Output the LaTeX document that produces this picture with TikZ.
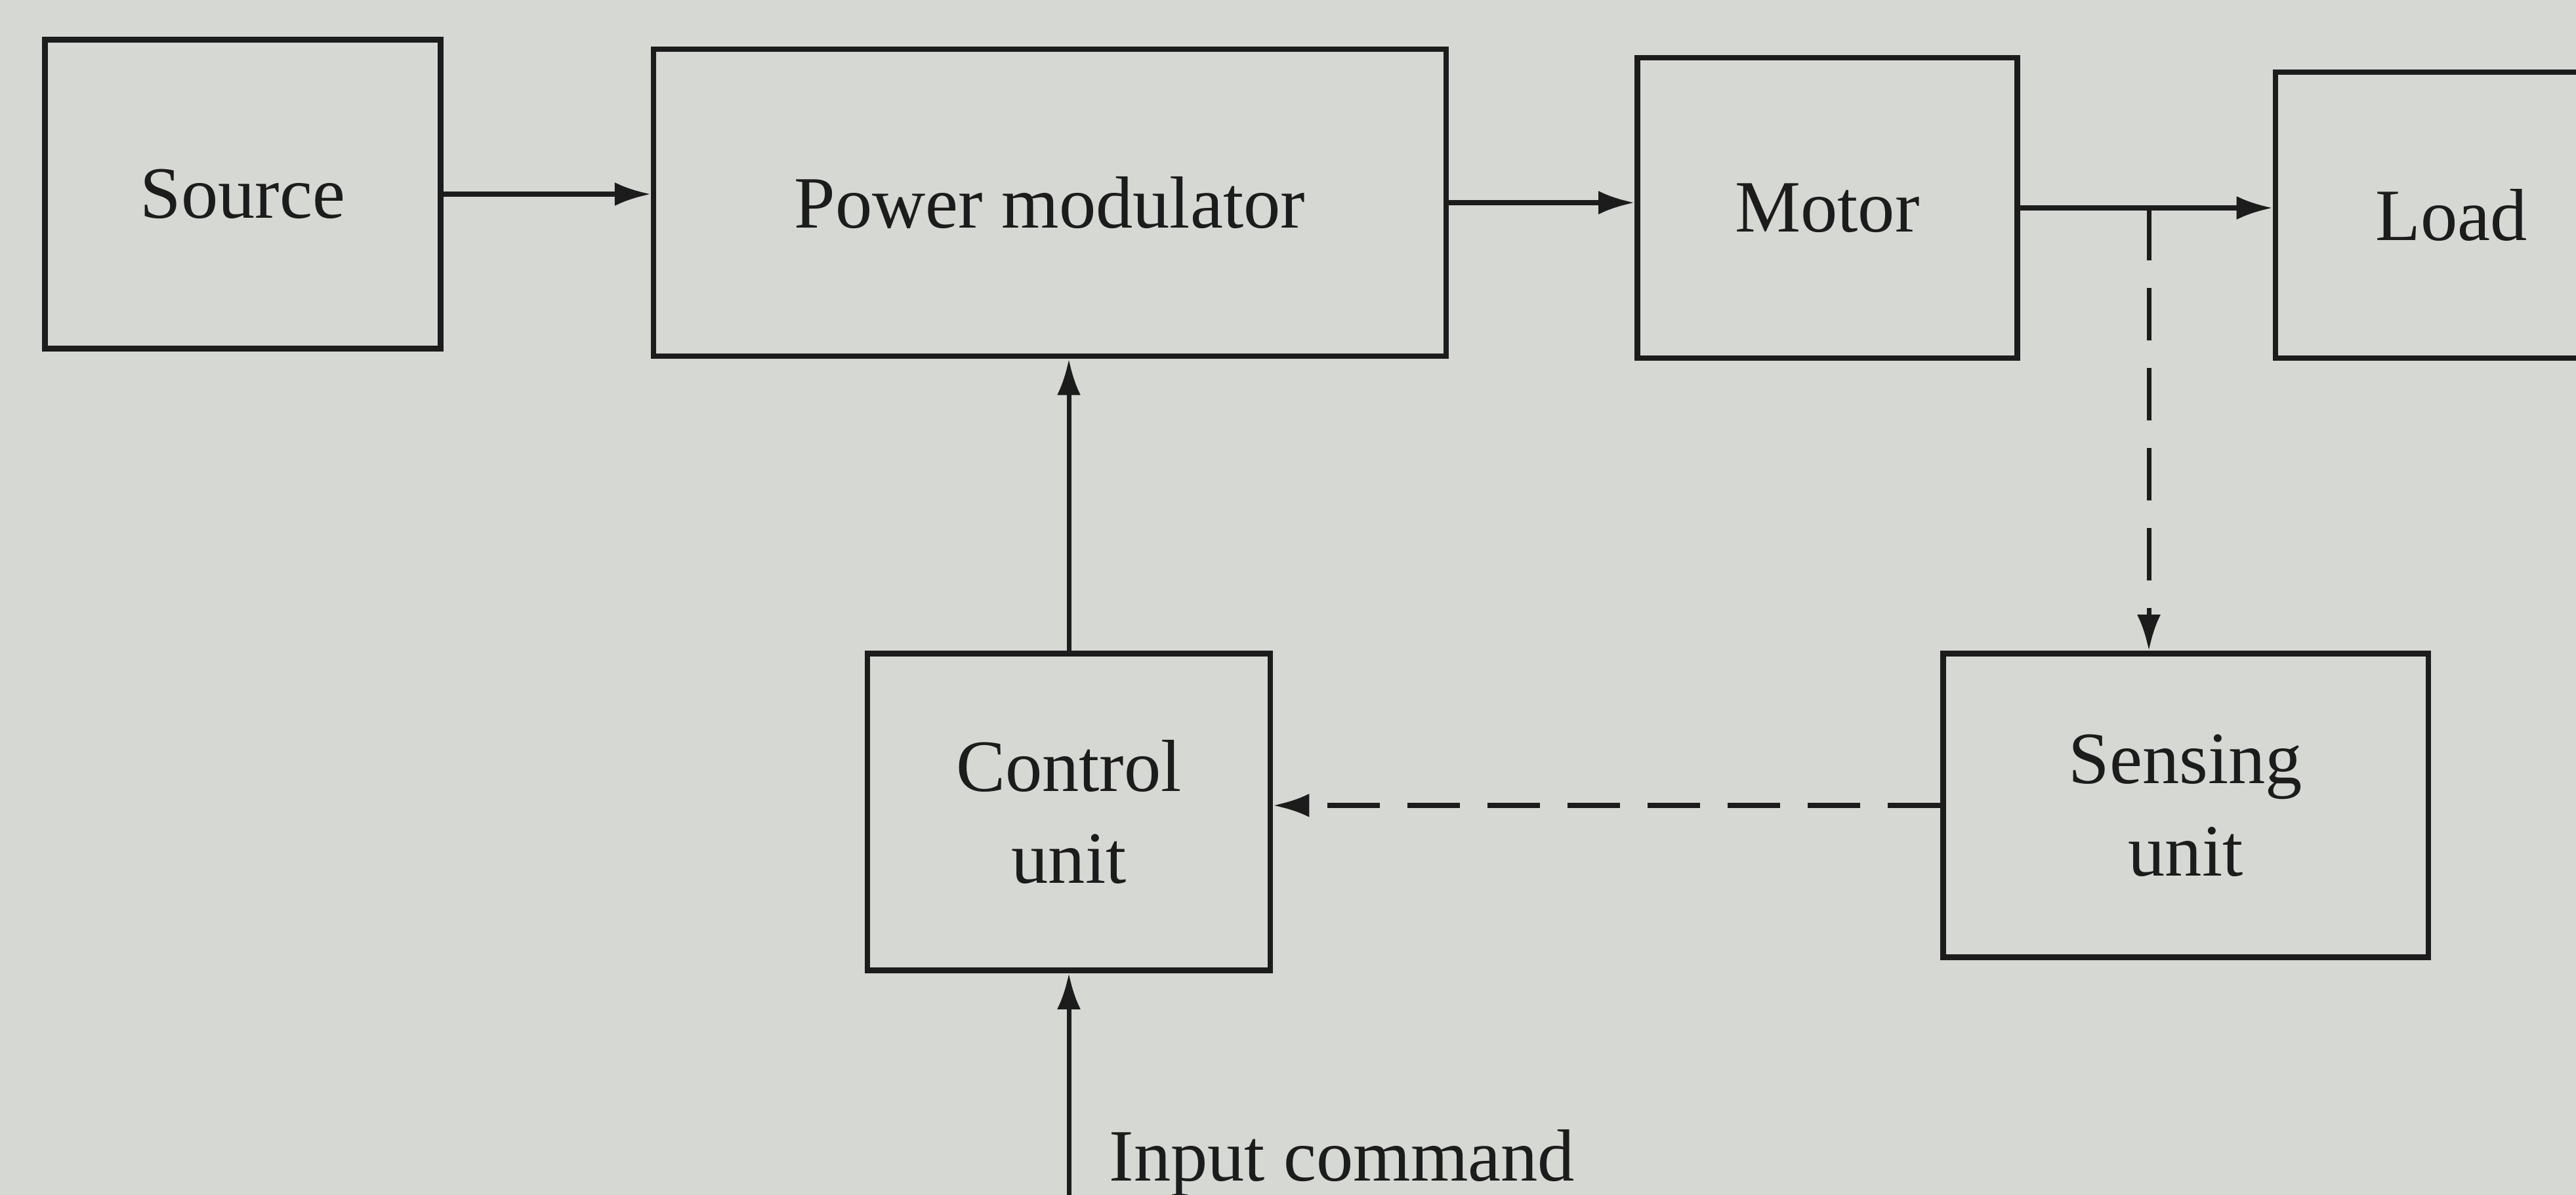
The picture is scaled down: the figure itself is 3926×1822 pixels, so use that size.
\documentclass[tikz,border=0pt]{standalone}
\usepackage{fontspec}
\setmainfont{Liberation Serif}
\usetikzlibrary{arrows.meta}
\definecolor{paper}{RGB}{214,216,211}
\definecolor{ink}{RGB}{28,28,28}
\tikzset{
  blk/.style={draw=ink, line width=2.4pt, inner sep=0pt, align=center, text=ink,
    font=\fontsize{32}{40}\selectfont},
  arr/.style={draw=ink, line width=2pt, -{Latex[length=0.55cm,width=0.36cm]}},
  darr/.style={arr, dash pattern=on 0.8cm off 0.42cm},
  lbl/.style={text=ink, font=\fontsize{32}{40}\selectfont, inner sep=0pt}
}
\begin{document}
\begin{tikzpicture}[x=0.01cm, y=-0.01cm]
\fill[paper] (0,0) rectangle (3926,1822);
\useasboundingbox (0,0) rectangle (3926,1822);
\clip (0,0) rectangle (3926,1822);
\node[blk, minimum width=6.03cm, minimum height=4.71cm] (src) at (370,296) {Source};
\node[blk, minimum width=12.07cm, minimum height=4.68cm] (pm) at (1600,309) {Power modulator};
\node[blk, minimum width=5.79cm, minimum height=4.58cm] (mot) at (2785,317) {Motor};
\node[blk, minimum width=5.36cm, minimum height=4.36cm] (load) at (3736,328) {Load};
\node[blk, minimum width=6.14cm, minimum height=4.83cm] (ctl) at (1629,1238) {Control\\unit};
\node[blk, minimum width=7.39cm, minimum height=4.63cm] (sen) at (3331,1228) {Sensing\\unit};
\draw[arr] (src.east) -- (src.east -| pm.west);
\draw[arr] (pm.east) -- (pm.east -| mot.west);
\draw[arr] (mot.east) -- (mot.east -| load.west);
\coordinate (tap) at (3275,317);
\draw[darr] (tap) -- (tap |- sen.north);
\draw[darr] (sen.west) -- (sen.west -| ctl.east);
\draw[arr] (ctl.north) -- (ctl.north |- pm.south);
\coordinate (in) at (1629,1822);
\draw[arr] (in) -- (ctl.south);
\node[lbl, anchor=base west] (inlbl) at (1690,1800) {Input command};
\end{tikzpicture}
\end{document}
